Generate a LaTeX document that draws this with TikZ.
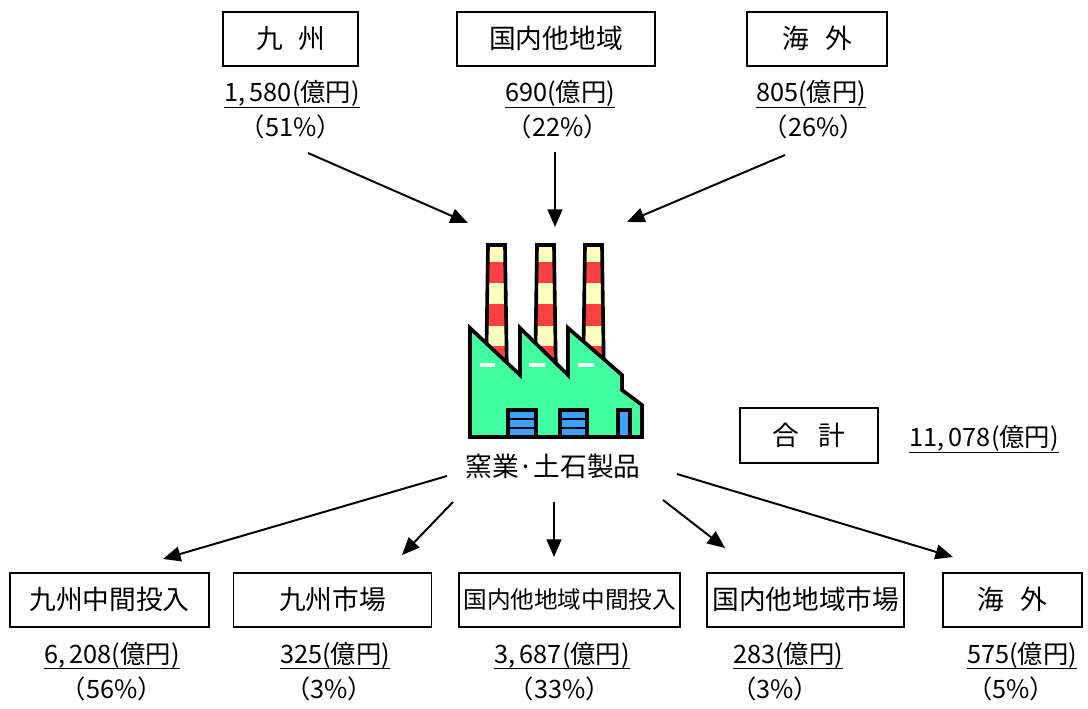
\documentclass[tikz,border=0pt]{standalone}
\usepackage{fontspec}
\setmainfont{Noto Sans CJK JP}
\usepackage{tikz}
\usetikzlibrary{arrows.meta}
\definecolor{figInk}{RGB}{0,0,0}
\definecolor{figGreen}{RGB}{64,255,160}
\definecolor{figRed}{RGB}{255,64,64}
\definecolor{figCream}{RGB}{255,255,192}
\definecolor{figBlue}{RGB}{64,160,255}
\definecolor{figWhite}{RGB}{255,255,255}
\tikzset{
  figbox/.style={draw=figInk,line width=1.3pt,inner sep=0pt,minimum height=1.35cm,font=\fontsize{19}{22}\selectfont},
  figamount/.style={inner sep=0pt,anchor=base,font=\fontsize{18}{21}\selectfont},
  figshare/.style={inner sep=0pt,anchor=base,font=\fontsize{18}{21}\selectfont},
  figunder/.style={draw=figInk,line width=1.2pt},
  figflow/.style={-{Triangle[length=12.5pt,width=10.5pt]},draw=figInk,line width=1.4pt},
  figoutline/.style={draw=figInk,line width=2.6pt,line join=miter},
  figdoor/.style={draw=figInk,line width=2.2pt,fill=figBlue},
}
% thousands separator, set wide
\newcommand{\Sep}{,\kern0.18em}
% amount in 100 million yen, underlined, with its share below
\newcommand{\AmountLabel}[6]{%
  \node[figamount] (#1) at (#2,#3) {#4};%
  \draw[figunder] ([yshift=-4pt]#1.base west) -- ([yshift=-4pt]#1.base east);%
  \node[figshare] (#1share) at (#5,{#3+35}) {（#6）};%
}
% striped chimney, left edge at #1
\newcommand{\Chimney}[1]{%
  \begin{scope}
    \clip (#1,245) -- ({#1+17},245) -- ({#1+19},380) -- ({#1-2},380) -- cycle;
    \fill[figCream] ({#1-4},240) rectangle ({#1+22},382);
    \fill[figRed] ({#1-4},262) rectangle ({#1+22},283);
    \fill[figRed] ({#1-4},304) rectangle ({#1+22},326);
    \fill[figRed] ({#1-4},346) rectangle ({#1+22},368);
  \end{scope}
  \draw[figoutline] (#1,245) -- ({#1+17},245) -- ({#1+19},380) -- ({#1-2},380) -- cycle;%
}

\begin{document}
\begin{tikzpicture}[x=0.025cm,y=-0.025cm]
\path[use as bounding box,fill=figWhite] (0,0) rectangle (1088,709);

% Supply side: where the inputs come from
\node[figbox,minimum width=3.375cm] (srcKyu) at (290.8,38.7) {九\hspace{0.6em}州};
\node[figbox,minimum width=4.94cm] (srcDom) at (556,38.7) {国内他地域};
\node[figbox,minimum width=3.48cm] (srcOvs) at (817,38.7) {海\hspace{0.6em}外};

\AmountLabel{amtKyu}{292}{102}{1\Sep 580(億円)}{291}{51\%}
\AmountLabel{amtDom}{560}{102}{690(億円)}{558}{22\%}
\AmountLabel{amtOvs}{811}{102}{805(億円)}{814}{26\%}

% Factory in the middle
\Chimney{488}
\Chimney{537}
\Chimney{585}
\draw[figoutline,fill=figGreen] (470,328) -- (520,375) -- (520,328) -- (568,375) -- (568,328)
  -- (622,375) -- (622,390) -- (642,405) -- (642,437) -- (470,437) -- cycle;
\fill[figWhite] (480,363) rectangle (495,367.5);
\fill[figWhite] (529,363) rectangle (545,367.5);
\fill[figWhite] (578,363) rectangle (594,367.5);
\draw[figdoor] (508,410) rectangle (536,437);
\draw[figInk,line width=1.6pt] (508,419) -- (536,419) (508,428) -- (536,428);
\draw[figdoor] (560,410) rectangle (587,437);
\draw[figInk,line width=1.6pt] (560,419) -- (587,419) (560,428) -- (587,428);
\draw[figdoor] (618,410) rectangle (630,437);
\node[font=\fontsize{19}{22}\selectfont,inner sep=0pt] (factory) at (553,466) {窯業·土石製品};

% Flows into the factory
\coordinate (inKyuT) at (308,153);
\coordinate (inKyuH) at (468,223);
\coordinate (inDomT) at (555,152);
\coordinate (inDomH) at (555,227);
\coordinate (inOvsT) at (785,155);
\coordinate (inOvsH) at (627,222);
\draw[figflow] (inKyuT) -- (inKyuH);
\draw[figflow] (inDomT) -- (inDomH);
\draw[figflow] (inOvsT) -- (inOvsH);

% Total
\node[figbox,minimum width=3.45cm,minimum height=1.375cm] (total) at (809,435.5) {合\hspace{0.7em}計};
\node[figamount] (amtTotal) at (984,447) {11\Sep 078(億円)};
\draw[figunder] ([yshift=-4pt]amtTotal.base west) -- ([yshift=-4pt]amtTotal.base east);

% Flows out of the factory
\coordinate (outKyuInT) at (447,476);
\coordinate (outKyuInH) at (163,559);
\coordinate (outKyuMkT) at (453,502);
\coordinate (outKyuMkH) at (402,555);
\coordinate (outDomInT) at (554,502);
\coordinate (outDomInH) at (554,557);
\coordinate (outDomMkT) at (663,500);
\coordinate (outDomMkH) at (725,548);
\coordinate (outOvsT) at (677,474);
\coordinate (outOvsH) at (953,557);
\draw[figflow] (outKyuInT) -- (outKyuInH);
\draw[figflow] (outKyuMkT) -- (outKyuMkH);
\draw[figflow] (outDomInT) -- (outDomInH);
\draw[figflow] (outDomMkT) -- (outDomMkH);
\draw[figflow] (outOvsT) -- (outOvsH);

% Demand side: where the output goes
\node[figbox,minimum width=4.975cm] (dstKyuIn) at (109.5,599.7) {九州中間投入};
\node[figbox,minimum width=4.95cm] (dstKyuMk) at (332.5,599.7) {九州市場};
\node[figbox,minimum width=5.52cm,font=\fontsize{16.8}{20}\selectfont] (dstDomIn) at (569.7,599.7) {国内他地域中間投入};
\node[figbox,minimum width=4.925cm] (dstDomMk) at (805.8,599.7) {国内他地域市場};
\node[figbox,minimum width=3.46cm] (dstOvs) at (1012.5,599.7) {海\hspace{0.6em}外};

\AmountLabel{amtKyuIn}{112}{663}{6\Sep 208(億円)}{112}{56\%}
\AmountLabel{amtKyuMk}{335}{663}{325(億円)}{329}{3\%}
\AmountLabel{amtDomIn}{562}{663}{3\Sep 687(億円)}{560}{33\%}
\AmountLabel{amtDomMk}{788}{663}{283(億円)}{775}{3\%}
\AmountLabel{amtOvs2}{1022}{663}{575(億円)}{1011}{5\%}
\end{tikzpicture}
\end{document}
